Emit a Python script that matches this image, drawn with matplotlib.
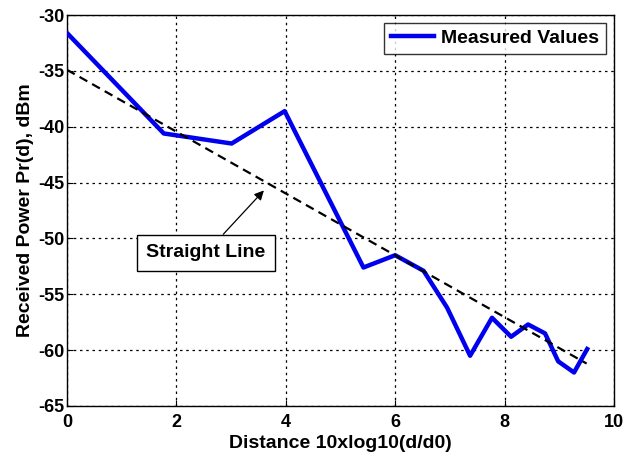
import matplotlib
matplotlib.use("Agg")
import matplotlib.pyplot as plt
import numpy as np

plt.rcParams['font.family'] = ['Liberation Sans', 'DejaVu Sans']
plt.rcParams['font.weight'] = 'bold'
plt.rcParams['axes.unicode_minus'] = False

# Measured values
dist = [0.0, 1.77, 3.01, 3.98, 5.42, 6.0, 6.52, 6.95, 7.37, 7.77, 8.12, 8.43, 8.74, 8.98, 9.27, 9.51]
power = [-31.6, -40.6, -41.5, -38.6, -52.6, -51.5, -52.9, -56.2, -60.5, -57.1, -58.8, -57.7, -58.5, -61.0, -62.0, -59.9]

# Straight line fit endpoints
line_x = [0.0, 9.5]
line_y = [-34.9, -61.2]

fig = plt.figure(figsize=(6.23, 4.57), dpi=100)
ax = fig.add_axes([0.1075, 0.1116, 0.878, 0.8554])

ax.plot(dist, power, color='#0000ee', lw=3.2, label='Measured Values', zorder=3)
ax.plot(line_x, line_y, color='black', lw=1.6, ls=(0, (4, 2.5)), zorder=4)

ax.set_xlim(0, 10)
ax.set_ylim(-65, -30)
ax.set_xticks([0, 2, 4, 6, 8, 10])
ax.set_yticks(np.arange(-65, -29, 5))
ax.grid(True, color='black', ls=(0, (2, 3)), lw=0.9)
ax.tick_params(labelsize=13, direction='in', length=4)
ax.tick_params(axis='x', pad=5.5)
ax.tick_params(axis='y', pad=2)
for s in ax.spines.values():
    s.set_linewidth(1.0)

ax.set_xlabel('Distance 10xlog10(d/d0)', fontsize=14, fontweight='bold', labelpad=3)
ax.set_ylabel('Received Power Pr(d), dBm', fontsize=14, fontweight='bold', labelpad=3)

leg = ax.legend(loc='upper right', fontsize=14, frameon=True, fancybox=False,
                edgecolor='black', handlelength=2.2, handletextpad=0.4, borderpad=0.35,
                borderaxespad=0.4)
leg.get_frame().set_linewidth(1.0)

ax.annotate('Straight Line', xy=(3.6, -45.7), xytext=(2.54, -51.3),
            fontsize=14, fontweight='bold', ha='center', va='center',
            bbox=dict(boxstyle='square,pad=0.5', fc='white', ec='black', lw=1.0),
            arrowprops=dict(arrowstyle='-|>', color='black', lw=0.9, mutation_scale=14,
                            shrinkA=0, shrinkB=0), zorder=5)

fig.savefig('out.png', dpi=100)
